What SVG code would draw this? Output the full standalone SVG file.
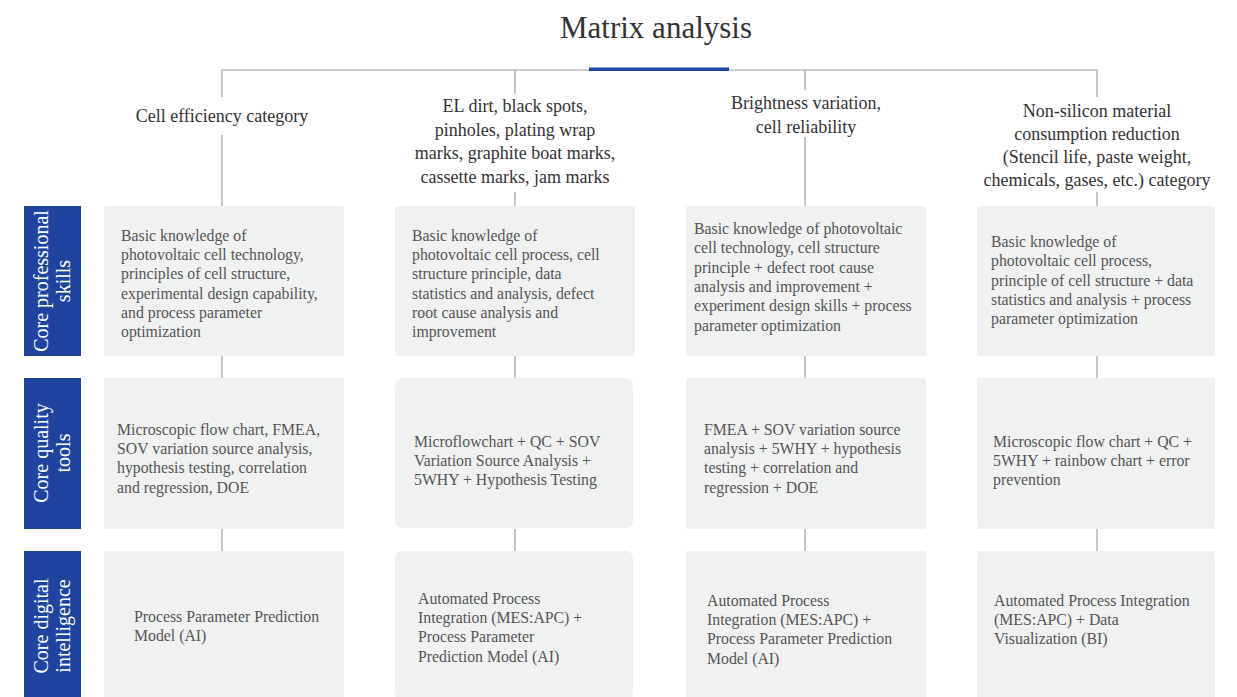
<svg xmlns="http://www.w3.org/2000/svg" width="1237" height="697" viewBox="0 0 1237 697">
<style>
.title{font-family:"Liberation Serif","Times New Roman",serif;font-size:31px;fill:#333;text-anchor:middle}
.hdr{font-family:"Liberation Serif","Times New Roman",serif;font-size:18px;fill:#333;text-anchor:middle}
.box{fill:#f0f1f1}
.bt{font-family:"Liberation Serif","Times New Roman",serif;font-size:15.8px;fill:#555}
.lab{fill:#1f44a0}
.lt{font-family:"Liberation Serif","Times New Roman",serif;font-size:20px;fill:#fff;text-anchor:middle}
.ln{stroke:#a0a0a0;stroke-width:1.2;fill:none}
</style>
<rect width="1237" height="697" fill="#fff"/>
<text class="title" x="656" y="38">Matrix analysis</text>
<g id="connectors">
<path class="ln" d="M222,97 V70 H1097 V97"/>
<path class="ln" d="M515,70 V94 M805,70 V90"/>
<path class="ln" d="M222,135 V206 M515,192 V206 M805,137 V206 M1097,192 V206"/>
<path class="ln" d="M222,356 V378 M515,356 V378 M805,356 V378 M1097,356 V378"/>
<path class="ln" d="M222,529 V551 M515,529 V551 M805,529 V551 M1097,529 V551"/>
<rect x="589" y="67.5" width="140" height="3.5" fill="#1f44a0"/>
</g>
<g id="header1"><text class="hdr" x="222" y="122">Cell efficiency category</text></g>
<g id="header2"><text class="hdr" x="515" y="112"><tspan x="515">EL dirt, black spots,</tspan><tspan x="515" dy="23.5">pinholes, plating wrap</tspan><tspan x="515" dy="23.5">marks, graphite boat marks,</tspan><tspan x="515" dy="23.5">cassette marks, jam marks</tspan></text></g>
<g id="header3"><text class="hdr" x="806" y="109"><tspan x="806">Brightness variation,</tspan><tspan x="806" dy="23.5">cell reliability</tspan></text></g>
<g id="header4"><text class="hdr" x="1097" y="117"><tspan x="1097">Non-silicon material</tspan><tspan x="1097" dy="23">consumption reduction</tspan><tspan x="1097" dy="23">(Stencil life, paste weight,</tspan><tspan x="1097" dy="23">chemicals, gases, etc.) category</tspan></text></g>

<g id="label1"><rect class="lab" x="24" y="206" width="57" height="150"/><text class="lt" transform="translate(52.5,281) rotate(-90)"><tspan x="0" y="-5">Core professional</tspan><tspan x="0" y="17">skills</tspan></text></g>
<g id="label2"><rect class="lab" x="24" y="378" width="57" height="151"/><text class="lt" transform="translate(52.5,453) rotate(-90)"><tspan x="0" y="-5">Core quality</tspan><tspan x="0" y="17">tools</tspan></text></g>
<g id="label3"><rect class="lab" x="24" y="551" width="57" height="150"/><text class="lt" transform="translate(52.5,626) rotate(-90)"><tspan x="0" y="-5">Core digital</tspan><tspan x="0" y="17">intelligence</tspan></text></g>

<g id="r1c1"><rect class="box" x="104" y="206" width="240" height="150" rx="2"/><text class="bt" y="241"><tspan x="121">Basic knowledge of</tspan><tspan x="121" dy="19.2">photovoltaic cell technology,</tspan><tspan x="121" dy="19.2">principles of cell structure,</tspan><tspan x="121" dy="19.2">experimental design capability,</tspan><tspan x="121" dy="19.2">and process parameter</tspan><tspan x="121" dy="19.2">optimization</tspan></text></g>
<g id="r1c2"><rect class="box" x="395" y="206" width="240" height="150" rx="2"/><text class="bt" y="241"><tspan x="412">Basic knowledge of</tspan><tspan x="412" dy="19.2">photovoltaic cell process, cell</tspan><tspan x="412" dy="19.2">structure principle, data</tspan><tspan x="412" dy="19.2">statistics and analysis, defect</tspan><tspan x="412" dy="19.2">root cause analysis and</tspan><tspan x="412" dy="19.2">improvement</tspan></text></g>
<g id="r1c3"><rect class="box" x="686" y="206" width="240" height="150" rx="2"/><text class="bt" y="234"><tspan x="694">Basic knowledge of photovoltaic</tspan><tspan x="694" dy="19.3">cell technology, cell structure</tspan><tspan x="694" dy="19.3">principle + defect root cause</tspan><tspan x="694" dy="19.3">analysis and improvement +</tspan><tspan x="694" dy="19.3">experiment design skills + process</tspan><tspan x="694" dy="19.3">parameter optimization</tspan></text></g>
<g id="r1c4"><rect class="box" x="977" y="206" width="238" height="150" rx="2"/><text class="bt" y="247"><tspan x="991">Basic knowledge of</tspan><tspan x="991" dy="19.3">photovoltaic cell process,</tspan><tspan x="991" dy="19.3">principle of cell structure + data</tspan><tspan x="991" dy="19.3">statistics and analysis + process</tspan><tspan x="991" dy="19.3">parameter optimization</tspan></text></g>

<g id="r2c1"><rect class="box" x="104" y="378" width="240" height="151" rx="2"/><text class="bt" y="435"><tspan x="117">Microscopic flow chart, FMEA,</tspan><tspan x="117" dy="19.2">SOV variation source analysis,</tspan><tspan x="117" dy="19.2">hypothesis testing, correlation</tspan><tspan x="117" dy="19.2">and regression, DOE</tspan></text></g>
<g id="r2c2"><rect class="box" x="395" y="378" width="238" height="150" rx="7"/><text class="bt" y="447"><tspan x="414">Microflowchart + QC + SOV</tspan><tspan x="414" dy="19.2">Variation Source Analysis +</tspan><tspan x="414" dy="19.2">5WHY + Hypothesis Testing</tspan></text></g>
<g id="r2c3"><rect class="box" x="686" y="378" width="240" height="151" rx="2"/><text class="bt" y="435"><tspan x="704">FMEA + SOV variation source</tspan><tspan x="704" dy="19.2">analysis + 5WHY + hypothesis</tspan><tspan x="704" dy="19.2">testing + correlation and</tspan><tspan x="704" dy="19.2">regression + DOE</tspan></text></g>
<g id="r2c4"><rect class="box" x="977" y="378" width="238" height="151" rx="2"/><text class="bt" y="447"><tspan x="993">Microscopic flow chart + QC +</tspan><tspan x="993" dy="19.2">5WHY + rainbow chart + error</tspan><tspan x="993" dy="19.2">prevention</tspan></text></g>

<g id="r3c1"><rect class="box" x="104" y="551" width="240" height="150" rx="2"/><text class="bt" y="622"><tspan x="134">Process Parameter Prediction</tspan><tspan x="134" dy="19.2">Model (AI)</tspan></text></g>
<g id="r3c2"><rect class="box" x="395" y="551" width="238" height="150" rx="7"/><text class="bt" y="604"><tspan x="418">Automated Process</tspan><tspan x="418" dy="19.2">Integration (MES:APC) +</tspan><tspan x="418" dy="19.2">Process Parameter</tspan><tspan x="418" dy="19.2">Prediction Model (AI)</tspan></text></g>
<g id="r3c3"><rect class="box" x="686" y="551" width="240" height="150" rx="2"/><text class="bt" y="606"><tspan x="707">Automated Process</tspan><tspan x="707" dy="19.2">Integration (MES:APC) +</tspan><tspan x="707" dy="19.2">Process Parameter Prediction</tspan><tspan x="707" dy="19.2">Model (AI)</tspan></text></g>
<g id="r3c4"><rect class="box" x="977" y="551" width="238" height="150" rx="2"/><text class="bt" y="606"><tspan x="994">Automated Process Integration</tspan><tspan x="994" dy="19.2">(MES:APC) + Data</tspan><tspan x="994" dy="19.2">Visualization (BI)</tspan></text></g>
</svg>
